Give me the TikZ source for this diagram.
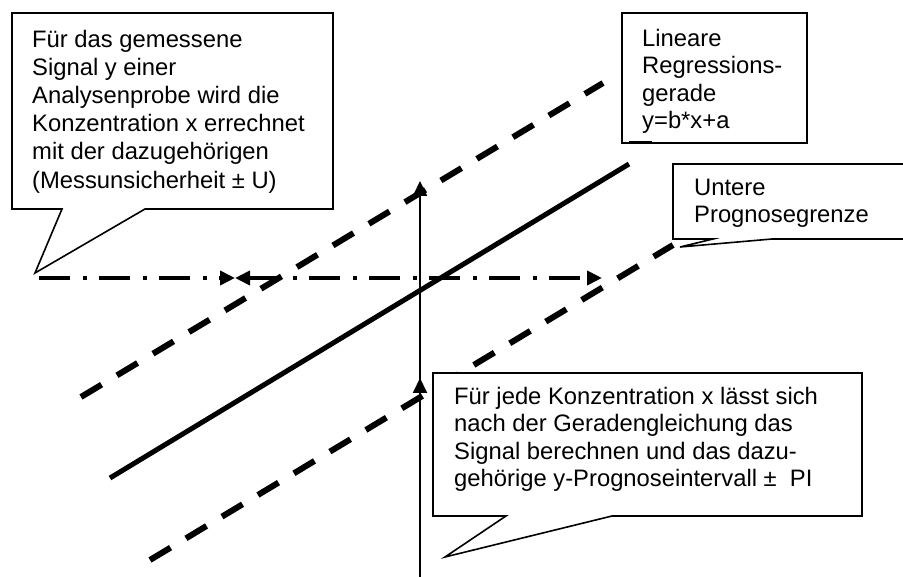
\documentclass[tikz,border=0pt]{standalone}
\usepackage{fontspec}
\setmainfont{Liberation Sans}
\usetikzlibrary{arrows.meta}
\begin{document}
\begin{tikzpicture}[x=1pt,y=-1pt,
  callout/.style={draw=black, fill=white, line width=1.6pt, line join=miter},
  txt/.style={anchor=north west, inner sep=0pt, align=left, font=\fontsize{23.8}{27.3}\selectfont},
  txtwide/.style={anchor=north west, inner sep=0pt, align=left, font=\fontsize{23.8}{28.2}\selectfont},
  thickdash/.style={line width=6pt, dash pattern=on 24pt off 18pt},
  regline/.style={line width=5pt},
  dashdot/.style={line width=4pt, dash pattern=on 31pt off 13pt on 4pt off 12pt},
  vline/.style={line width=2pt},
  tipA/.style={-{Triangle[length=15pt,width=14pt]}},
  tipB/.style={{Triangle[length=15pt,width=14pt]}-{Triangle[length=15pt,width=14pt]}}
]
\useasboundingbox (0,0) rectangle (903,577);
\clip (0,0) rectangle (903,577);

% coordinates
\coordinate (up1) at (81,397);   \coordinate (up2) at (603,83);
\coordinate (lo1) at (150,560);  \coordinate (lo2) at (673,245);
\coordinate (re1) at (110,478);  \coordinate (re2) at (629,164);
\coordinate (hx0) at (39,278);   \coordinate (hx1) at (235,278);  \coordinate (hx2) at (602,278);
\coordinate (vb) at (420,577);   \coordinate (vt) at (420,181);   \coordinate (vm) at (420,378);

% lines
\draw[thickdash] (up1) -- (up2);
\draw[thickdash] (lo1) -- (lo2);
\draw[regline] (re1) -- (re2);
\draw[vline, tipA] (vb) -- (vt);
\draw[vline, tipA] (vb) -- (vm);
\draw[dashdot, tipA] (hx0) -- (hx1);
\draw[dashdot, tipB] (hx1) -- (hx2);

% callouts
\draw[callout] (12,13) -- (333,13) -- (333,209) -- (145,209) -- (35,273) -- (62,209) -- (12,209) -- cycle;
\draw[callout] (622,13) rectangle (807,143);
\draw[line width=3pt] (629,143) -- (652,143);
\draw[callout] (673,164) -- (915,164) -- (915,239) -- (772,239) -- (680,247) -- (713,239) -- (673,239) -- cycle;
\draw[callout] (433,373) -- (862,373) -- (862,516) -- (612,516) -- (445,557) -- (506,516) -- (433,516) -- cycle;

% texts
\node[txtwide] (t1) at (32,29.7) {Für das gemessene\\Signal y einer\\Analysenprobe wird die\\Konzentration x errechnet\\mit der dazugehörigen\\(Messunsicherheit ± U)};
\node[txt] (t2) at (642,29) {Lineare\\Regressions-\\gerade\\y=b*x+a};
\node[txt] (t3) at (694,179) {Untere\\Prognosegrenze};
\node[txt] (t4) at (454,387) {Für jede Konzentration x lässt sich\\nach der Geradengleichung das\\Signal berechnen und das dazu-\\gehörige y-Prognoseintervall ±~ PI};
\end{tikzpicture}
\end{document}
